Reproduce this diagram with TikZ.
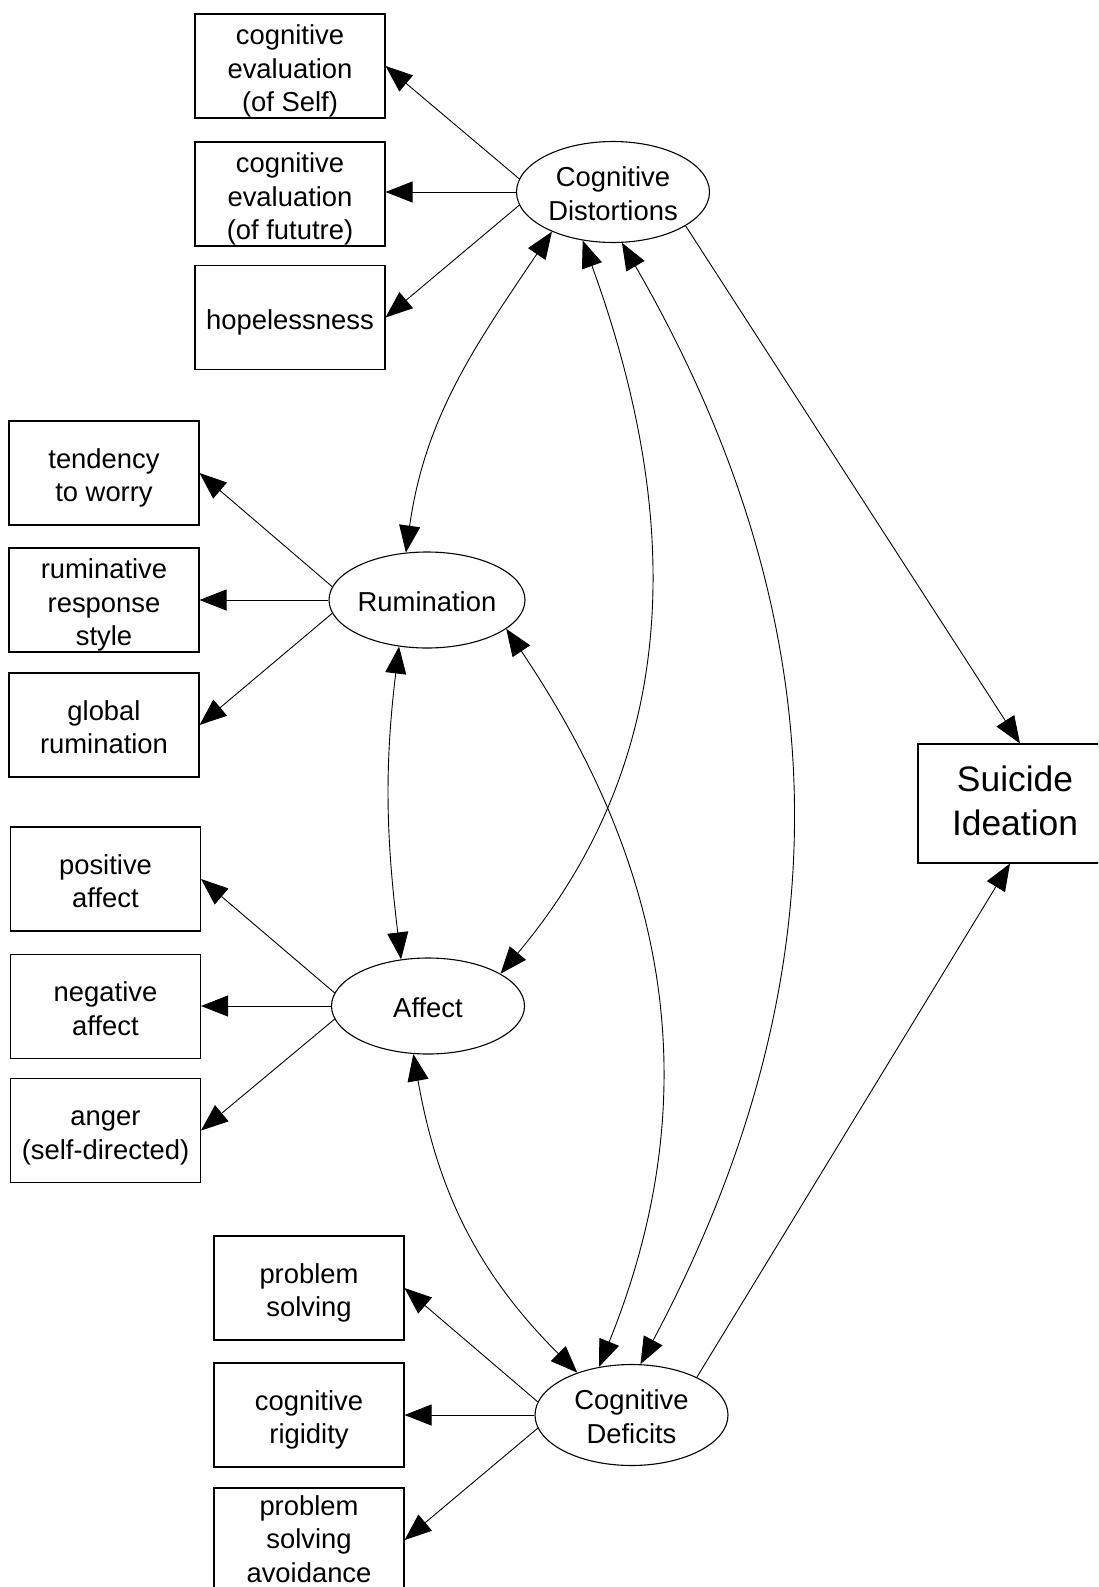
\documentclass[tikz,border=0pt]{standalone}
\usepackage{fontspec}
\setmainfont{Liberation Sans}
\usetikzlibrary{arrows.meta,shapes.geometric,calc}
% fixed height of the first text line, so every label sits alike in its frame
\newcommand\firstln{\rule{0pt}{30.5pt}}
\begin{document}
\begin{tikzpicture}[x=1pt,y=1pt,
  conn/.style={line width=0.9pt,-{Triangle[length=27pt,width=21pt]}},
  link/.style={line width=0.9pt,{Triangle[length=27pt,width=21pt]}-{Triangle[length=27pt,width=21pt]}},
  ind/.style={draw,line width=1.1pt,fill=white,minimum width=190pt,minimum height=104pt,
    inner sep=0pt,align=center,font=\fontsize{27.4}{33.4}\selectfont,
    execute at end node={\rule[-6.5pt]{0pt}{0pt}}},
  lat/.style={draw,ellipse,line width=1.1pt,fill=white,minimum width=193pt,minimum height=96pt,
    inner sep=0pt,align=center,font=\fontsize{27.4}{33.4}\selectfont,
    execute at end node={\rule[-7.5pt]{0pt}{0pt}}},
  outc/.style={draw,line width=1.1pt,fill=white,minimum width=194pt,minimum height=119pt,
    inner sep=0pt,align=center,font=\fontsize{35.4}{43.5}\selectfont,
    execute at end node={\rule[-6pt]{0pt}{0pt}}}]

% page area
\fill[white] (0,0) rectangle (1098,-1587);
\clip (0,0) rectangle (1098,-1587);

% latent factors
\node[lat] (cd)   at (613,-192)    {\firstln Cognitive\\Distortions};
\node[lat] (ru)   at (427,-600)    {\firstln Rumination};
\node[lat] (af)   at (428,-1006)   {\firstln Affect};
\node[lat] (cdef) at (631.5,-1415) {\firstln Cognitive\\Deficits};

% outcome (its right side runs past the page edge)
\node[outc] (si) at (1015,-803.5) {Suicide\\Ideation};

% indicators of cognitive distortions
\node[ind] (b1) at (290,-66)    {\firstln cognitive\\evaluation\\(of Self)};
\node[ind] (b2) at (290,-194)   {\firstln cognitive\\evaluation\\(of fututre)};
\node[ind] (b3) at (290,-317.5) {\firstln hopelessness};

% indicators of rumination
\node[ind] (t1) at (104,-473) {\firstln tendency\\to worry};
\node[ind] (t2) at (104,-600) {\firstln ruminative\\response\\style};
\node[ind] (t3) at (104,-725) {\firstln global\\rumination};

% indicators of affect
\node[ind] (a1) at (105.5,-879)    {\firstln positive\\affect};
\node[ind] (a2) at (105.5,-1006.5) {\firstln negative\\affect};
\node[ind] (a3) at (105.5,-1130.5) {\firstln anger\\(self-directed)};

% indicators of cognitive deficits (the last box runs past the bottom edge)
\node[ind] (d1) at (309,-1288) {\firstln problem\\solving};
\node[ind] (d2) at (309,-1415) {\firstln cognitive\\rigidity};
\node[ind,execute at end node={}] (d3) at (309,-1540)
  {\rule{0pt}{24pt}problem\\solving\\avoidance};

% loadings
\draw[conn] (cd.172) -- (b1.east);
\draw[conn] (cd.west) -- (cd.west -| b2.east);
\draw[conn] (cd.188) -- (b3.east);

\draw[conn] (ru.172) -- (t1.east);
\draw[conn] (ru.west) -- (t2.east);
\draw[conn] (ru.188) -- (t3.east);

\draw[conn] (af.172) -- (a1.east);
\draw[conn] (af.west) -- (af.west -| a2.east);
\draw[conn] (af.188) -- (a3.east);

\draw[conn] (cdef.172) -- (d1.east);
\draw[conn] (cdef.west) -- (d2.east);
\draw[conn] (cdef.188) -- (d3.east);

% paths to the outcome
\draw[conn] (cd.-25) -- ($(si.north)+(5,0)$);
\draw[conn] (cdef.30) -- ($(si.south)+(-5,0)$);

% correlations among the factors
\draw[link] (cd.213) .. controls +(236:137pt) and +(82:137pt) .. (ru.114);
\draw[link] (ru.239) .. controls +(263:122pt) and +(97:122pt) .. (af.120);
\draw[link] (cd.238) .. controls +(290:288pt) and +(50:288pt) .. (af.24);
\draw[link] (cd.280) .. controls +(300:440pt) and +(62:440pt) .. (cdef.80);
\draw[link] (ru.340) .. controls +(304:292pt) and +(68:292pt) .. (cdef.124);
\draw[link] (af.253) .. controls +(280:140pt) and +(135:140pt) .. (cdef.142);
\end{tikzpicture}
\end{document}
